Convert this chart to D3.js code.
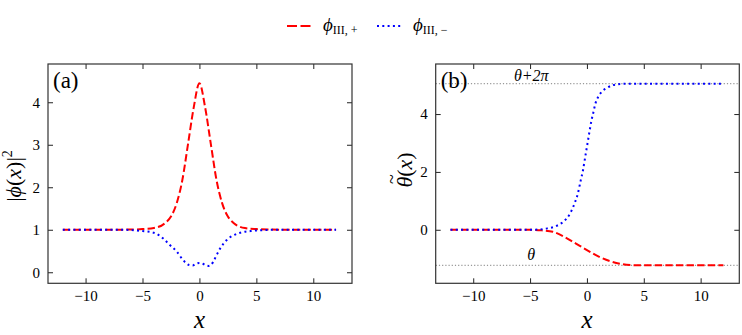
<!DOCTYPE html>
<html><head><meta charset="utf-8">
<script src="https://cdn.jsdelivr.net/npm/d3@7"></script>
<style>
body{margin:0;background:#fff}
svg{display:block}
</style>
</head><body>
<svg id="c" width="742" height="335"></svg>
<script>
// ---- data ----
const xTicks = [-10, -5, 0, 5, 10];
const yTicksA = [0, 1, 2, 3, 4];
const yTicksB = [0, 2, 4];

// panel (a): |phi(x)|^2
const xA_plus = [-12, -8, -6, -5, -4, -3, -2.5, -2, -1.5, -1, -0.5, 0, 0.5, 1, 1.5, 2, 2.5, 3, 4, 5, 6, 8, 12];
const yA_plus = [1, 1, 1.005, 1.015, 1.04, 1.16, 1.31, 1.62, 2.17, 3.02, 3.88, 4.45, 3.88, 3.02, 2.17, 1.62, 1.31, 1.16, 1.04, 1.015, 1.005, 1, 1];
const xA_minus = [-12, -7, -5, -4, -3.2, -2.6, -2, -1.5, -1.2, -0.9, -0.6, -0.3, 0, 0.3, 0.6, 0.8, 1.0, 1.2, 1.5, 1.8, 2.4, 3, 3.6, 4.5, 5.5, 7, 12];
const yA_minus = [1, 1, 0.97, 0.93, 0.8, 0.64, 0.49, 0.31, 0.22, 0.17, 0.16, 0.2, 0.22, 0.2, 0.16, 0.15, 0.17, 0.24, 0.4, 0.55, 0.76, 0.87, 0.93, 0.97, 0.99, 1, 1];

// panel (b): tilde theta(x)
const xB_plus = [-12, -5, -4, -3, -2, -1, 0, 1, 2, 3, 4, 5, 12];
const yB_plus = [0, 0, -0.02, -0.07, -0.24, -0.47, -0.7, -0.92, -1.08, -1.18, -1.22, -1.23, -1.23];
const xB_minus = [-12, -5, -4.2, -3.6, -2.7, -2.1, -1.5, -1.1, -0.8, -0.55, -0.35, -0.2, -0.05, 0.1, 0.25, 0.4, 0.55, 0.75, 1.0, 1.3, 1.7, 2.3, 3, 4, 12];
const yB_minus = [0, 0, 0.01, 0.04, 0.13, 0.27, 0.55, 0.9, 1.25, 1.7, 2.05, 2.4, 2.75, 3.1, 3.45, 3.78, 4.03, 4.37, 4.6, 4.77, 4.89, 5.0, 5.04, 5.05, 5.05];
const thetaLevels = [-1.23, 5.05];
const thetaLabels = ["θ", "θ+2π"];

// ---- layout ----
const FONT = '"Liberation Serif", Tinos, "Times New Roman", serif';
const svg = d3.select("#c");
const plotTop = 64, plotBottom = 283.3;
const panels = [
  {x0: 48, x1: 352, ydom: [-0.26, 4.9], yticks: yTicksA, label: "(a)",
   series: [{xs: xA_plus, ys: yA_plus, kind: "plus"}, {xs: xA_minus, ys: yA_minus, kind: "minus"}]},
  {x0: 435.7, x1: 739.3, ydom: [-1.85, 5.73], yticks: yTicksB, label: "(b)",
   series: [{xs: xB_plus, ys: yB_plus, kind: "plus"}, {xs: xB_minus, ys: yB_minus, kind: "minus"}]}
];
const styles = {
  plus: {stroke: "#ff0000", dash: "7.4,3.2"},
  minus: {stroke: "#0000ff", dash: "2,3.3"}
};

panels.forEach((p, i) => {
  const x = d3.scaleLinear().domain([-13.3, 13.4]).range([p.x0, p.x1]);
  const y = d3.scaleLinear().domain(p.ydom).range([plotBottom, plotTop]);
  const g = svg.append("g");

  if (i === 1) {
    thetaLevels.forEach(v => {
      g.append("line").attr("x1", p.x0).attr("x2", p.x1)
        .attr("y1", y(v)).attr("y2", y(v))
        .attr("stroke", "#999").attr("stroke-width", 1.2)
        .attr("stroke-dasharray", "1.2,2");
    });
    g.append("text").attr("x", x(-4.9)).attr("y", y(thetaLevels[1]) - 3)
      .attr("text-anchor", "middle").attr("font-size", 16).attr("font-style", "italic")
      .text(thetaLabels[1]);
    g.append("text").attr("x", x(-4.9)).attr("y", y(thetaLevels[0]) - 5)
      .attr("text-anchor", "middle").attr("font-size", 16).attr("font-style", "italic")
      .text(thetaLabels[0]);
  }

  p.series.forEach(s => {
    const line = d3.line().x((d, k) => x(s.xs[k])).y(d => y(d)).curve(d3.curveMonotoneX);
    g.append("path").attr("d", line(s.ys)).attr("fill", "none")
      .attr("stroke", styles[s.kind].stroke).attr("stroke-width", 2)
      .attr("stroke-dasharray", styles[s.kind].dash);
  });

  const fmt = d3.format("d");
  const ab = g.append("g").attr("transform", `translate(0,${plotBottom})`)
    .call(d3.axisBottom(x).tickValues(xTicks).tickSize(-5).tickPadding(7).tickFormat(fmt));
  const at = g.append("g").attr("transform", `translate(0,${plotTop})`)
    .call(d3.axisTop(x).tickValues(xTicks).tickSize(-5).tickFormat(""));
  const al = g.append("g").attr("transform", `translate(${p.x0},0)`)
    .call(d3.axisLeft(y).tickValues(p.yticks).tickSize(-5).tickPadding(8).tickFormat(fmt));
  const ar = g.append("g").attr("transform", `translate(${p.x1},0)`)
    .call(d3.axisRight(y).tickValues(p.yticks).tickSize(-5).tickFormat(""));
  [ab, at, al, ar].forEach(a => {
    a.attr("font-family", null).attr("font-size", null);
    a.select(".domain").remove();
    a.selectAll("line").attr("stroke", "#222").attr("stroke-width", 1);
    a.selectAll("text").attr("font-size", 15).attr("fill", "#000");
  });

  g.append("rect").attr("x", p.x0).attr("y", plotTop).attr("width", p.x1 - p.x0).attr("height", plotBottom - plotTop)
    .attr("fill", "none").attr("stroke", "#333").attr("stroke-width", 1.2);

  g.append("text").attr("x", p.x0 + 5).attr("y", plotTop + 24).attr("font-size", 23).text(p.label);

  g.append("text").attr("x", x(0)).attr("y", 328).attr("text-anchor", "middle")
    .attr("font-size", 25).attr("font-style", "italic").text("x");
});

const yl1 = svg.append("text").attr("transform", "translate(21,176) rotate(-90)")
  .attr("text-anchor", "middle").attr("font-size", 22);
yl1.append("tspan").text("|");
yl1.append("tspan").attr("font-style", "italic").text("ϕ");
yl1.append("tspan").text("(");
yl1.append("tspan").attr("font-style", "italic").text("x");
yl1.append("tspan").text(")|");
yl1.append("tspan").attr("font-size", 14).attr("dy", -9).text("2");

// theta-tilde label
const yg2 = svg.append("g").attr("transform", "translate(412,170) rotate(-90)");
const yl2 = yg2.append("text").attr("font-size", 22);
yl2.append("tspan").attr("font-style", "italic").text("θ");
yl2.append("tspan").text("(");
yl2.append("tspan").attr("font-style", "italic").text("x");
yl2.append("tspan").text(")");

const lg = svg.append("g");
const legendItems = [
  {kind: "plus", x: 287, sub: "III, +"},
  {kind: "minus", x: 377, sub: "III, −"}
];
legendItems.forEach(it => {
  lg.append("line").attr("x1", it.x).attr("x2", it.x + 25).attr("y1", 26).attr("y2", 26)
    .attr("stroke", styles[it.kind].stroke).attr("stroke-width", 2)
    .attr("stroke-dasharray", it.kind === "plus" ? "10,3.5" : "2,3.3");
  const t = lg.append("text").attr("x", it.x + 36).attr("y", 31).attr("font-size", 19);
  t.append("tspan").attr("font-style", "italic").text("ϕ");
  t.append("tspan").attr("font-size", 12).attr("dy", 3).text(it.sub);
});

svg.selectAll("text").style("font-family", FONT);

const L = yl2.node().getComputedTextLength();
yl2.attr("x", -L / 2);
const thW = yl2.select("tspan").node().getComputedTextLength();
yg2.append("text").attr("x", -L / 2 + thW / 2 + 3).attr("y", -14)
  .attr("text-anchor", "middle").attr("font-size", 18).style("font-family", FONT).text("~");
</script>
</body></html>
